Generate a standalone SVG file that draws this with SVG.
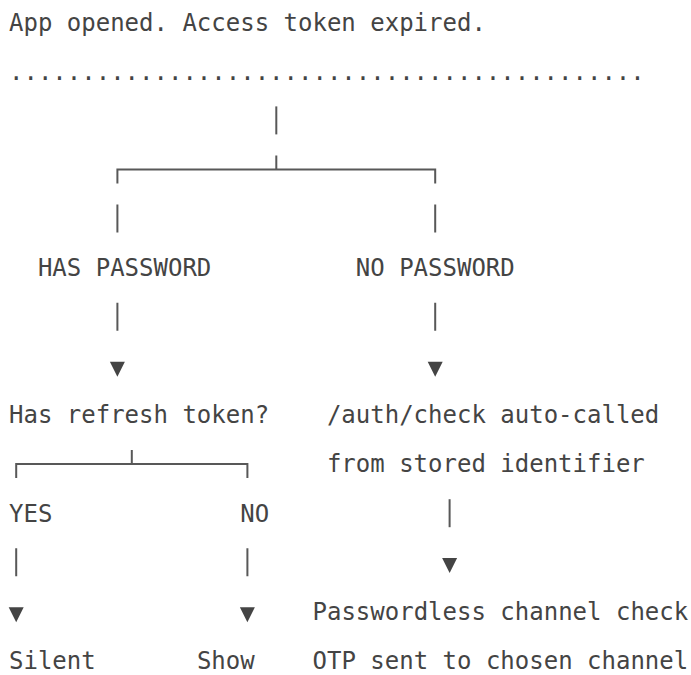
<svg xmlns="http://www.w3.org/2000/svg" width="691" height="675" viewBox="0 0 691 675">
  <style>
    text { font-family: "DejaVu Sans Mono", "Liberation Mono", monospace; font-size: 24px; fill: #444444; white-space: pre; }
    .wire { fill: none; stroke: #585858; stroke-width: 2; stroke-linecap: butt; }
    .head { fill: #444444; }
  </style>
  <defs>
    <!-- downward arrowhead, origin at the text baseline, centred on the cell -->
    <polygon id="arrow-down" points="-7.5,-12.5 7.5,-12.5 0,2.5"/>
  </defs>

  <rect width="691" height="675" fill="#ffffff"/>

  <!-- grid: column x = 9 + col*14.45, baseline y = 30.5 + row*49.1 -->

  <g id="start">
    <text x="9" y="30.5">App opened. Access token expired.</text>
  </g>
  <g id="divider">
    <text x="9" y="79.6">............................................</text>
  </g>

  <g id="has-password">
    <text x="37.9" y="276">HAS PASSWORD</text>
  </g>
  <g id="no-password">
    <text x="355.8" y="276">NO PASSWORD</text>
  </g>

  <g id="has-refresh-token">
    <text x="9" y="423.3">Has refresh token?</text>
  </g>
  <g id="auth-check">
    <text x="326.9" y="423.3">/auth/check auto-called</text>
    <text x="326.9" y="472.4">from stored identifier</text>
  </g>

  <g id="yes">
    <text x="9" y="521.5">YES</text>
  </g>
  <g id="no">
    <text x="240.2" y="521.5">NO</text>
  </g>

  <g id="passwordless-check">
    <text x="312.5" y="619.7">Passwordless channel check</text>
  </g>

  <g id="silent">
    <text x="9" y="668.8">Silent</text>
  </g>
  <g id="show">
    <text x="196.9" y="668.8">Show</text>
  </g>
  <g id="otp-sent">
    <text x="312.5" y="668.8">OTP sent to chosen channel</text>
  </g>

  <g id="connectors">
    <!-- trunk down to the password split -->
    <path class="wire" d="M276.3 106.4 V134.4"/>
    <path class="wire" d="M117.4 183.5 V169.5 H435.2 V183.5 M276.3 155.5 V169.5"/>
    <!-- into HAS / NO PASSWORD -->
    <path class="wire" d="M117.4 204.6 V232.6 M435.2 204.6 V232.6"/>
    <!-- out of HAS / NO PASSWORD -->
    <path class="wire" d="M117.4 302.8 V330.8 M435.2 302.8 V330.8"/>
    <use href="#arrow-down" class="head" x="117.4" y="374.2"/>
    <use href="#arrow-down" class="head" x="435.2" y="374.2"/>
    <!-- refresh token split -->
    <path class="wire" d="M16.2 478.1 V464.1 H247.4 V478.1 M131.8 450.1 V464.1"/>
    <path class="wire" d="M16.2 548.3 V576.3 M247.4 548.3 V576.3"/>
    <use href="#arrow-down" class="head" x="16.2" y="619.7"/>
    <use href="#arrow-down" class="head" x="247.4" y="619.7"/>
    <!-- auth check to passwordless channel check -->
    <path class="wire" d="M449.6 499.2 V527.2"/>
    <use href="#arrow-down" class="head" x="449.6" y="570.6"/>
  </g>
</svg>
